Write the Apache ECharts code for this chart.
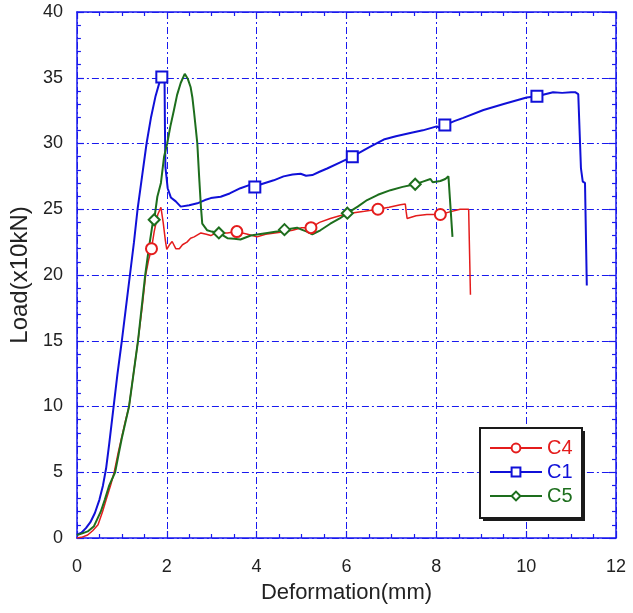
<!DOCTYPE html>
<html>
<head>
<meta charset="utf-8">
<script src="https://cdn.jsdelivr.net/npm/echarts@6/dist/echarts.min.js"></script>
<style>
html,body{margin:0;padding:0;background:#fff;}
#chart{width:633px;height:613px;}
</style>
</head>
<body>
<div id="chart"></div>
<script>
// ---- Data ----
var xTicks = [0, 2, 4, 6, 8, 10, 12];
var yTicks = [0, 5, 10, 15, 20, 25, 30, 35, 40];
var seriesNames = ['C4', 'C1', 'C5'];

var c4Data = [[0,0],[0.1,0.05],[0.24,0.23],[0.35,0.55],[0.47,1.0],[0.57,2.0],[0.65,2.9],[0.75,4.0],[0.83,5.0],[0.92,6.5],[1.0,7.7],[1.08,8.9],[1.16,10.0],[1.26,12.5],[1.36,15.0],[1.45,17.5],[1.53,20.0],[1.6,21.2],[1.66,22.0],[1.72,23.3],[1.8,24.6],[1.87,25.15],[1.92,24.0],[1.97,22.6],[2.0,21.95],[2.06,22.3],[2.12,22.55],[2.2,22.0],[2.28,22.0],[2.35,22.3],[2.45,22.5],[2.53,22.8],[2.61,22.9],[2.76,23.2],[2.88,23.1],[2.98,23.0],[3.1,23.2],[3.35,23.2],[3.56,23.3],[3.8,23.1],[4.01,22.9],[4.2,23.1],[4.53,23.25],[4.8,23.4],[5.0,23.6],[5.21,23.6],[5.4,24.0],[5.64,24.3],[5.85,24.5],[6.09,24.7],[6.4,24.85],[6.7,25.0],[6.95,25.15],[7.2,25.35],[7.31,25.4],[7.33,24.8],[7.35,24.3],[7.55,24.5],[7.79,24.6],[8.09,24.6],[8.3,24.8],[8.53,25.0],[8.72,25.0],[8.76,18.5]];
var c4Markers = [1.66, 3.56, 5.21, 6.7, 8.09];

var c1Data = [[0,0.25],[0.1,0.4],[0.2,0.75],[0.3,1.2],[0.4,1.9],[0.5,2.9],[0.58,4.0],[0.65,5.3],[0.72,7.2],[0.81,9.8],[0.9,12.4],[1.0,15.0],[1.09,17.5],[1.18,20.0],[1.27,22.5],[1.35,25.0],[1.45,27.5],[1.55,30.0],[1.65,32.0],[1.75,33.6],[1.85,34.8],[1.89,35.05],[1.93,35.3],[1.95,35.1],[1.96,31.0],[1.97,28.2],[2.02,26.6],[2.09,25.9],[2.2,25.6],[2.31,25.2],[2.5,25.3],[2.68,25.45],[2.85,25.7],[2.98,25.85],[3.2,25.95],[3.4,26.2],[3.64,26.6],[3.85,26.85],[3.96,26.7],[4.1,26.9],[4.38,27.2],[4.6,27.5],[4.8,27.65],[4.98,27.7],[5.1,27.55],[5.24,27.6],[5.4,27.85],[5.57,28.1],[5.85,28.55],[6.13,29.0],[6.5,29.7],[6.83,30.3],[7.1,30.55],[7.42,30.8],[7.7,31.0],[8.01,31.3],[8.09,31.15],[8.19,31.4],[8.4,31.7],[8.6,31.95],[9.05,32.55],[9.5,33.0],[10.01,33.5],[10.24,33.6],[10.6,33.9],[10.8,33.85],[11.0,33.9],[11.09,33.9],[11.16,33.75],[11.22,28.1],[11.26,27.1],[11.31,27.0],[11.35,19.2]];
var c1Markers = [1.89, 3.96, 6.13, 8.19, 10.24];

var c5Data = [[0,0.23],[0.12,0.35],[0.24,0.5],[0.38,0.9],[0.53,2.0],[0.62,2.9],[0.72,4.0],[0.85,5.0],[0.93,6.4],[1.0,7.6],[1.08,8.8],[1.16,10.0],[1.26,12.5],[1.36,15.0],[1.44,17.5],[1.52,20.0],[1.6,22.0],[1.68,23.8],[1.72,24.2],[1.79,25.95],[1.87,27.0],[1.94,29.0],[2.01,30.0],[2.08,31.3],[2.16,32.55],[2.23,33.7],[2.31,34.6],[2.4,35.3],[2.47,34.9],[2.53,34.3],[2.57,33.5],[2.61,32.3],[2.65,31.0],[2.68,30.0],[2.72,27.5],[2.76,25.2],[2.79,23.9],[2.9,23.4],[3.0,23.3],[3.16,23.2],[3.35,22.8],[3.5,22.75],[3.64,22.7],[3.87,23.0],[4.05,23.1],[4.24,23.2],[4.45,23.3],[4.62,23.45],[4.9,23.6],[5.0,23.45],[5.12,23.3],[5.24,23.1],[5.42,23.4],[5.64,23.9],[5.85,24.3],[6.02,24.7],[6.25,25.2],[6.46,25.7],[6.7,26.1],[6.98,26.45],[7.25,26.7],[7.53,26.9],[7.7,27.1],[7.87,27.3],[7.92,27.05],[8.09,27.15],[8.2,27.3],[8.27,27.5],[8.36,22.9]];
var c5Markers = [1.72, 3.16, 4.62, 6.02, 7.53];

// ---- Styles ----
var AX = '#1a1aee';
var FONT = '"Liberation Sans", Arial, sans-serif';
var colors = {C4: '#e41c1c', C1: '#1010d8', C5: '#1d6e1d'};

function buildData(data, markers) {
  return data.map(function (p) {
    var isMarker = markers.indexOf(p[0]) >= 0;
    return isMarker ? {value: p} : {value: p, symbol: 'none'};
  });
}

function lineSeries(name, data, markers, symbol, size, width) {
  return {
    name: name,
    type: 'line',
    xAxisIndex: 0,
    yAxisIndex: 0,
    data: buildData(data, markers),
    symbol: symbol,
    symbolSize: size,
    showSymbol: true,
    showAllSymbol: true,
    smooth: false,
    clip: true,
    color: colors[name],
    lineStyle: {color: colors[name], width: width},
    itemStyle: {color: colors[name], borderColor: colors[name], borderWidth: 1},
    emphasis: {disabled: true},
    z: 3
  };
}

var dashDot = [7, 3, 2, 3];

function xAxisDef(pos, labels) {
  return {
    type: 'value', position: pos, min: 0, max: 12, interval: 2,
    axisLine: {show: true, onZero: false, lineStyle: {color: AX, width: 1.5}},
    axisTick: {show: true, inside: true, length: 7, lineStyle: {color: AX, width: 1.2}},
    minorTick: {show: true, splitNumber: 4, length: 4, lineStyle: {color: AX, width: 1.2}},
    splitLine: {show: labels, lineStyle: {color: AX, width: 1, type: dashDot}},
    minorSplitLine: {show: false},
    axisLabel: {show: labels, margin: 20, fontSize: 18, color: '#222', fontFamily: FONT},
    name: labels ? 'Deformation(mm)' : '',
    nameLocation: 'middle', nameGap: 44,
    nameTextStyle: {fontSize: 22, color: '#222', fontFamily: FONT}
  };
}
function yAxisDef(pos, labels) {
  return {
    type: 'value', position: pos, min: 0, max: 40, interval: 5,
    axisLine: {show: true, onZero: false, lineStyle: {color: AX, width: 1.5}},
    axisTick: {show: true, inside: true, length: 7, lineStyle: {color: AX, width: 1.2}},
    minorTick: {show: true, splitNumber: 5, length: 4, lineStyle: {color: AX, width: 1.2}},
    splitLine: {show: labels, lineStyle: {color: AX, width: 1, type: dashDot}},
    minorSplitLine: {show: false},
    axisLabel: {show: labels, margin: 14, fontSize: 18, color: '#222', fontFamily: FONT},
    name: labels ? 'Load(x10kN)' : '',
    nameLocation: 'middle', nameGap: 36, nameRotate: 90,
    nameTextStyle: {fontSize: 24, color: '#222', fontFamily: FONT}
  };
}

var chart = echarts.init(document.getElementById('chart'), null, {renderer: 'canvas'});
chart.setOption({
  animation: false,
  backgroundColor: '#ffffff',
  grid: {left: 76, top: 12, right: 17, bottom: 75, containLabel: false},
  xAxis: [xAxisDef('bottom', true), xAxisDef('top', false)],
  yAxis: [yAxisDef('left', true), yAxisDef('right', false)],
  graphic: {
    elements: [
      {type: 'rect', left: 483, top: 431, z: 50, silent: true,
       shape: {width: 102, height: 90}, style: {fill: '#1a1a1a'}},
      {type: 'rect', left: 479, top: 427, z: 51, silent: true,
       shape: {width: 102, height: 90}, style: {fill: '#ffffff', stroke: '#1a1a1a', lineWidth: 2}}
    ]
  },
  legend: {
    z: 60,
    orient: 'vertical',
    left: 479, top: 427,
    padding: [11, 12, 12, 10],
    itemWidth: 52, itemHeight: 11, itemGap: 4,
    data: seriesNames.map(function (n) {
      return {name: n, textStyle: {color: colors[n], fontSize: 20, fontFamily: FONT}};
    }),
    selectedMode: false
  },
  series: [
    lineSeries('C4', c4Data, c4Markers, 'emptyCircle', 11, 1.5),
    lineSeries('C1', c1Data, c1Markers, 'emptyRect', 11, 2),
    lineSeries('C5', c5Data, c5Markers, 'emptyDiamond', 11, 2)
  ]
});
</script>
</body>
</html>
